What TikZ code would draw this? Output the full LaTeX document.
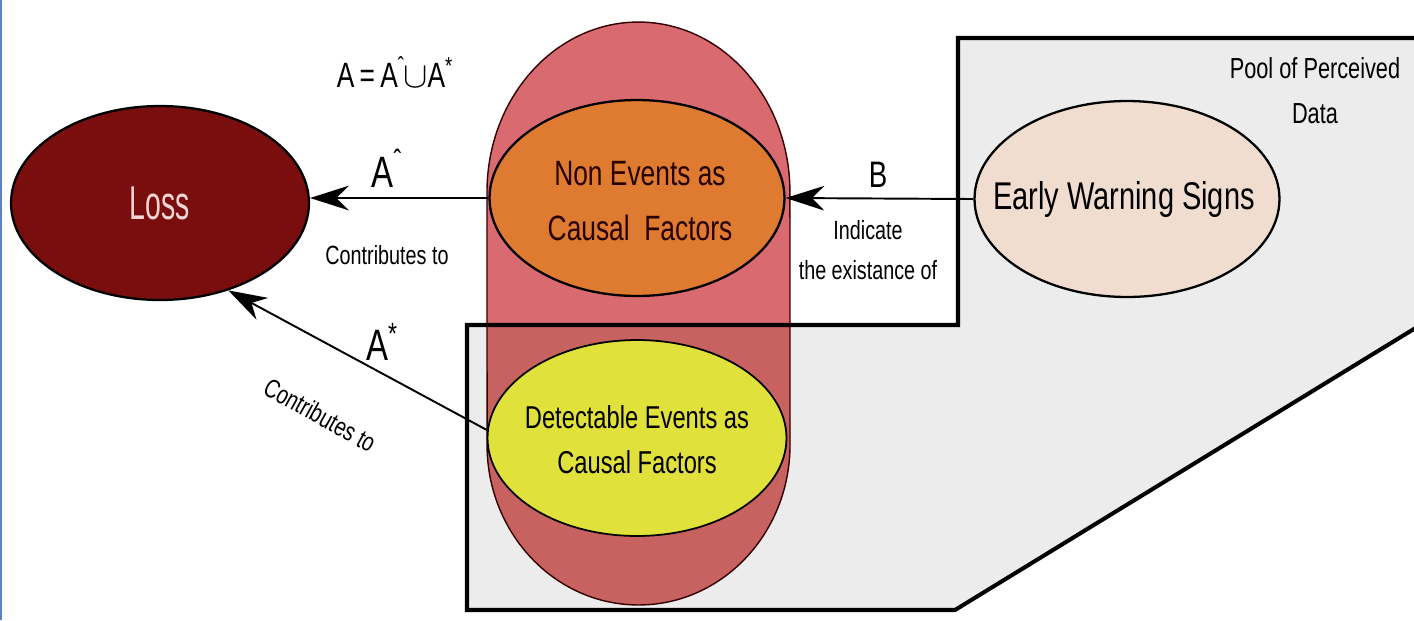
\documentclass[tikz,border=0pt]{standalone}
\usepackage{fontspec}
\setmainfont[FakeStretch=0.75]{Liberation Sans}
\newfontfamily\narrowfont[FakeStretch=0.6]{Liberation Sans}
\usepackage{tikz}
\usetikzlibrary{shapes,arrows.meta,positioning}
\definecolor{lossred}{RGB}{122,14,14}
\definecolor{losstext}{RGB}{245,212,212}
\definecolor{capsulepink}{RGB}{217,106,112}
\definecolor{capsuledark}{RGB}{200,98,96}
\definecolor{nonevorange}{RGB}{223,122,49}
\definecolor{detectyellow}{RGB}{224,225,58}
\definecolor{warnbeige}{RGB}{240,221,208}
\definecolor{poolgrey}{RGB}{236,236,236}
\definecolor{edgeblue}{RGB}{92,130,200}
\newcommand{\capsulepath}{(487,192) arc[start angle=180, end angle=0, x radius=3.03cm, y radius=3.4cm] -- (790,445) arc[start angle=0, end angle=-180, x radius=3.03cm, y radius=3.2cm] -- cycle}
\newcommand{\poolpath}{(958,38) -- (1440,38) -- (1440,313) -- (955,610) -- (467,610) -- (467,325) -- (958,325) -- cycle}

\begin{document}
\begin{tikzpicture}[
    x=0.02cm, y=-0.02cm,
    factor/.style={ellipse, draw=black, line width=1.3pt, inner sep=0pt},
    intext/.style={align=center, inner sep=0pt},
    arrow/.style={-{Stealth[length=22pt, width=14pt, inset=7pt]}, line width=1.1pt},
    lbl/.style={font=\fontsize{15}{22.7}\selectfont, align=center},
    sym/.style={font=\fontsize{25}{28}\selectfont}
]
\clip (0,0) rectangle (1414,620);
\fill[white] (0,0) rectangle (1414,620);
\fill[edgeblue] (0,0) rectangle (2.5,620);

% pool of perceived data and the capsule behind the factors
\fill[poolgrey] \poolpath;
\fill[capsulepink] \capsulepath;
\begin{scope}
  \clip \poolpath;
  \fill[capsuledark] \capsulepath;
\end{scope}
\draw[line width=2.3pt, line join=miter] \poolpath;
\draw[draw=black!80!red, line width=0.8pt] \capsulepath;

\node[factor, fill=lossred, minimum width=5.96cm, minimum height=3.88cm] (loss) at (160,203) {};
\node[factor, fill=nonevorange, minimum width=5.9cm, minimum height=3.92cm] (nonev) at (637,198) {};
\node[factor, fill=detectyellow, line width=1pt, minimum width=5.98cm, minimum height=3.92cm] (detect) at (637,438) {};
\node[factor, fill=warnbeige, minimum width=6.1cm, minimum height=3.92cm] (warn) at (1127,199) {};

\node[intext, text=losstext, font=\narrowfont\fontsize{27}{30}\selectfont] (losstxt) at (loss) {Loss};
\node[intext, text=black!85!red, font=\fontsize{20}{31}\selectfont] (nonevtxt) at (640,201) {Non Events as\\Causal\ \ Factors};
\node[intext, font=\fontsize{18}{25.5}\selectfont] (detecttxt) at (637,440) {Detectable Events as\\Causal Factors};
\node[intext, font=\fontsize{22}{26}\selectfont] (warntxt) at (1124,199) {Early Warning Signs};

\draw[arrow] (nonev.west) -- (loss.east |- nonev.west);
\draw[arrow] (detect.177) -- (loss.-52);
\draw[arrow] (warn.west) -- (nonev.east);

\node[font=\fontsize{20}{24}\selectfont] (union) at (395,72) {A\kern3pt=\kern3ptA\textsuperscript{ˆ}\kern-1pt$\cup$A\textsuperscript{*}};
\node[sym] (ahat) at (387,168) {A\textsuperscript{ˆ}};
\node[lbl] (contrib1) at (387,255) {Contributes to};
\node[sym] (astar) at (382,342) {A\textsuperscript{*}};
\node[lbl, rotate=-29] (contrib2) at (320,415) {Contributes to};
\node[font=\fontsize{21}{24}\selectfont] (bsym) at (878,175) {B};
\node[lbl] (indicate) at (868,250) {Indicate\\the existance of};
\node[lbl, font=\fontsize{16.5}{25.5}\selectfont] (pool) at (1315,91) {Pool of Perceived\\Data};

\end{tikzpicture}
\end{document}
